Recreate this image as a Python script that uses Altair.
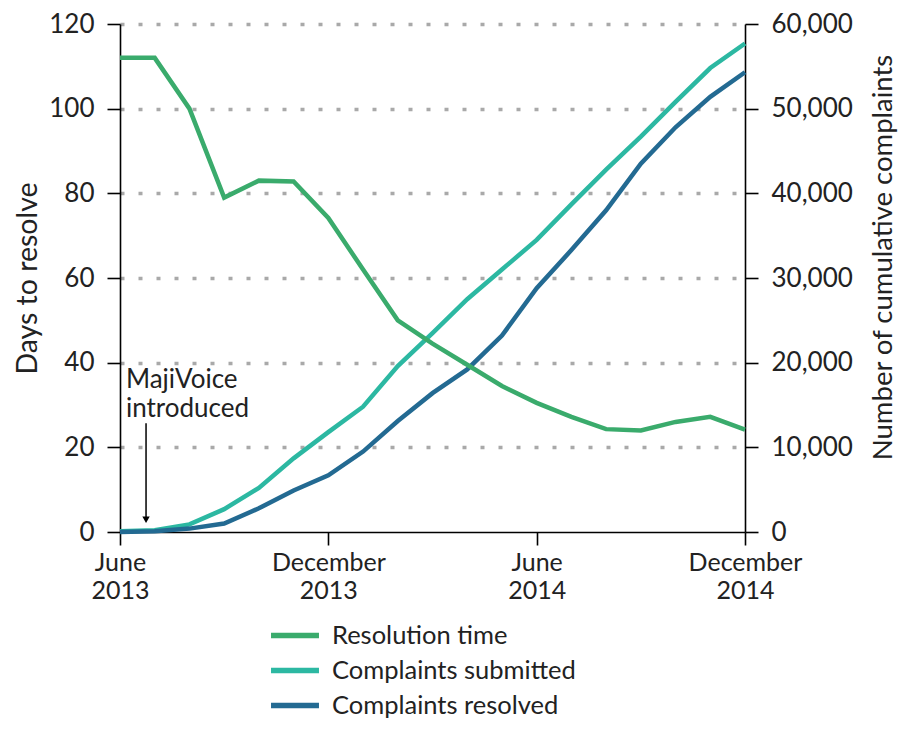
import altair as alt
import pandas as pd

# ---- data ----
months = list(range(19))  # 0 = June 2013 ... 18 = December 2014
resolution_days = [112, 112, 100, 79, 83, 82.8, 74.2, 62, 50, 44.5, 39.5, 34.5,
                   30.5, 27.2, 24.3, 24, 26, 27.2, 24.2]
complaints_submitted = [100, 200, 900, 2700, 5200, 8700, 11800, 14800, 19600, 23500,
                        27500, 31000, 34500, 38700, 42800, 46700, 50800, 54800, 57700]
complaints_resolved = [0, 100, 400, 1000, 2800, 4900, 6700, 9500, 13100, 16400,
                       19200, 23200, 28800, 33300, 38000, 43500, 47800, 51400, 54300]

series_names = ["Resolution time", "Complaints submitted", "Complaints resolved"]
series_colors = ["#3aab6c", "#2cb8a2", "#236a92"]

tick_months = [0, 6, 12, 18]
tick_labels = [["June", "2013"], ["December", "2013"], ["June", "2014"], ["December", "2014"]]

annotation_text = "MajiVoice\nintroduced"

FONT = "Lato"

# ---- tables ----
df_res = pd.DataFrame({"month": months, "value": resolution_days, "series": series_names[0]})
df_cmp = pd.DataFrame({
    "month": months + months,
    "value": complaints_submitted + complaints_resolved,
    "series": [series_names[1]] * len(months) + [series_names[2]] * len(months),
})
df_rule = pd.DataFrame({"month": [0.75], "value": [25.7], "value2": [3.5]})
df_head = pd.DataFrame({"month": [0.75], "value": [2.9]})
df_text = pd.DataFrame({"month": [0.17], "value": [34.0], "label": [annotation_text]})

label_expr = ""
for m, lab in zip(tick_months, tick_labels):
    label_expr += f"datum.value == {m} ? ['{lab[0]}', '{lab[1]}'] : "
label_expr += "''"

color_scale = alt.Scale(domain=series_names, range=series_colors)
legend = alt.Legend(
    orient="none", legendX=148, legendY=599, title=None,
    symbolType="stroke", symbolStrokeWidth=5.5, symbolSize=2300,
    labelFontSize=25.5, labelColor="#222", labelFont=FONT, rowPadding=9, labelOffset=10,
    clipHeight=25, labelLimit=500,
)

x_enc = alt.X(
    "month:Q",
    scale=alt.Scale(domain=[0, 18], nice=False, zero=False),
    axis=alt.Axis(values=tick_months, labelExpr=label_expr, title=None, grid=False,
                  labelOverlap=False, labelFlush=False, labelBound=False,
                  labelBaseline="top", labelLineHeight=28, labelPadding=5,
                  labelFontSize=25),
)

y_left_scale = alt.Scale(domain=[0, 120], nice=False)
y_left_axis = alt.Axis(
    values=[0, 20, 40, 60, 80, 100, 120], title="Days to resolve", orient="left",
    grid=True, gridDash=[4, 14], gridColor="#a9a9a9", gridWidth=3.5,
    gridOpacity={"condition": {"test": "datum.value === 0", "value": 0}, "value": 1},
    titlePadding=6,
)

green = alt.Chart(df_res).mark_line(strokeWidth=4.5).encode(
    x=x_enc,
    y=alt.Y("value:Q", scale=y_left_scale, axis=y_left_axis),
    color=alt.Color("series:N", scale=color_scale, legend=legend),
)

rule = alt.Chart(df_rule).mark_rule(color="black", strokeWidth=1.5).encode(
    x=alt.X("month:Q"), y=alt.Y("value:Q"), y2="value2:Q",
)
head = alt.Chart(df_head).mark_point(shape="triangle-down", filled=True, color="black",
                                     size=55, opacity=1).encode(
    x=alt.X("month:Q"), y=alt.Y("value:Q"),
)
text = alt.Chart(df_text).mark_text(align="left", baseline="alphabetic", lineBreak="\n",
                                     fontSize=26, font=FONT, color="#222",
                                     lineHeight=29).encode(
    x=alt.X("month:Q"), y=alt.Y("value:Q"), text="label:N",
)

left_group = alt.layer(rule, head, text, green)

right = alt.Chart(df_cmp).mark_line(strokeWidth=4.5).encode(
    x=x_enc,
    y=alt.Y("value:Q", scale=alt.Scale(domain=[0, 60000], nice=False),
            axis=alt.Axis(values=[0, 10000, 20000, 30000, 40000, 50000, 60000],
                          labelExpr="format(datum.value, ',')", orient="right",
                          title="Number of cumulative complaints", grid=False,
                          titleAngle=270, titlePadding=45, titleY=233,
                          titleFontSize=27.5)),
    color=alt.Color("series:N", scale=color_scale, legend=legend),
    order=alt.Order("month:Q"),
)

chart = alt.layer(right, left_group).resolve_scale(y="independent").properties(
    width=625, height=508,
    autosize=alt.AutoSizeParams(type="none"),
    padding={"left": 112, "top": 16, "right": 155, "bottom": 190},
).configure_view(stroke=None).configure_axis(
    domainColor="black", domainWidth=1.6, tickColor="black", tickWidth=1.6, tickSize=13,
    labelFontSize=26, labelColor="#222", labelFont=FONT, labelPadding=13,
    titleFontSize=28.5, titleFontWeight="normal", titleColor="#222", titleFont=FONT,
).configure_text(font=FONT)

chart.save("out.html", embed_options={"renderer": "svg", "actions": False})
